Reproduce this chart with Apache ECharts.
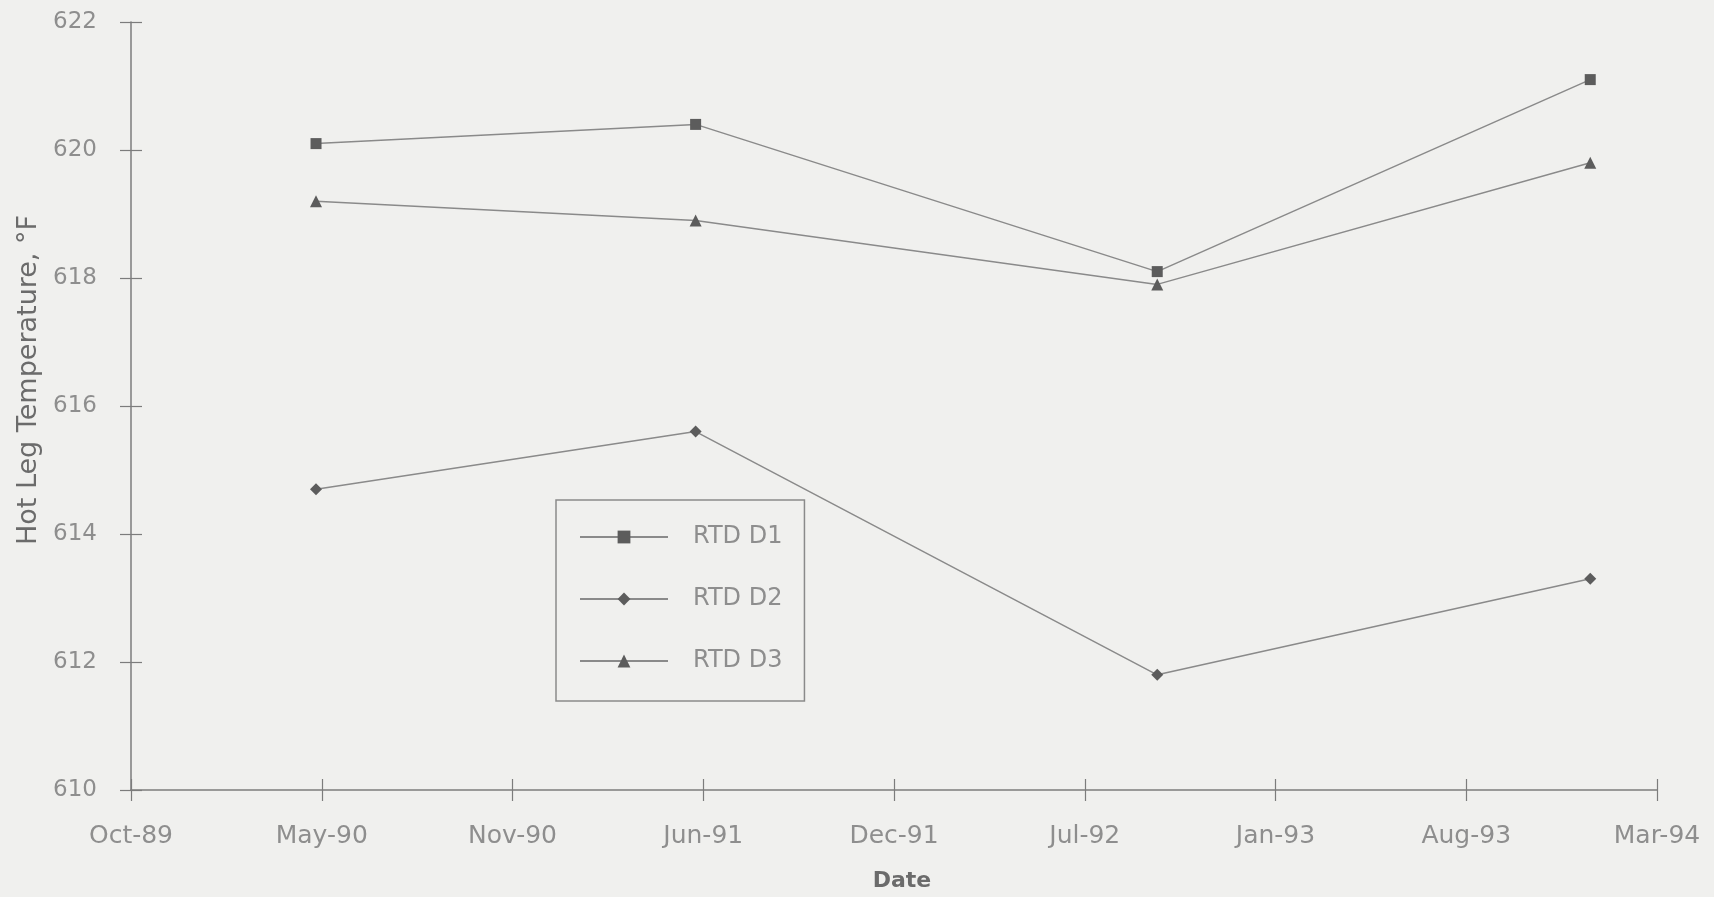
<!DOCTYPE html>
<html>
<head>
<meta charset="utf-8">
<title>Hot Leg Temperature</title>
<script src="https://cdn.jsdelivr.net/npm/echarts@6/dist/echarts.min.js"></script>
<style>
  html, body { margin: 0; padding: 0; background: #f0f0ee; }
  #chart { width: 1714px; height: 897px; }
</style>
</head>
<body>
<div id="chart"></div>
<script>
// Measurement dates and hot-leg RTD readings (°F)
const dates = ['1990-05-01', '1991-06-03', '1992-09-29', '1993-12-27'];
const rtdD1 = [620.1, 620.4, 618.1, 621.1];
const rtdD2 = [614.7, 615.6, 611.8, 613.3];
const rtdD3 = [619.2, 618.9, 617.9, 619.8];

// Date axis: spreadsheet day serials, one tick every 200 days
const xTickLabels = ['Oct-89', 'May-90', 'Nov-90', 'Jun-91', 'Dec-91', 'Jul-92', 'Jan-93', 'Aug-93', 'Mar-94'];
const X_MIN = 32800;
const X_STEP = 200;
const X_MAX = X_MIN + X_STEP * (xTickLabels.length - 1);

const Y_MIN = 610, Y_MAX = 622, Y_STEP = 2;

// Day serial counted from 1899-12-30
function toSerial(d) {
  const [y, m, dd] = d.split('-').map(Number);
  return Math.round((Date.UTC(y, m - 1, dd) - Date.UTC(1899, 11, 30)) / 86400000);
}
function pairs(values) {
  return values.map((v, i) => [toSerial(dates[i]), v]);
}

const FONT = '"DejaVu Sans", Lato, sans-serif';
const AXIS = '#7c7c7c';
const TEXT = '#8e8e8e';
const LINE = '#8a8a8a';
const MARK = '#5c5c5c';

const chart = echarts.init(document.getElementById('chart'), null, { renderer: 'canvas' });

function seriesOf(name, values, symbol, size) {
  return {
    name: name,
    type: 'line',
    data: pairs(values),
    symbol: symbol,
    symbolSize: size,
    showSymbol: true,
    itemStyle: { color: MARK },
    lineStyle: { color: LINE, width: 1.5 },
    emphasis: { disabled: true }
  };
}

chart.setOption({
  animation: false,
  backgroundColor: '#f0f0ee',
  textStyle: { fontFamily: FONT },
  grid: { left: 131, right: 57, top: 22, bottom: 107, containLabel: false },
  xAxis: [
    {
      type: 'value',
      min: X_MIN, max: X_MAX, interval: X_STEP,
      axisLine: { show: true, lineStyle: { color: AXIS, width: 1.5 } },
      axisTick: { show: true, length: 11, lineStyle: { color: AXIS, width: 1.2 } },
      splitLine: { show: false },
      axisLabel: {
        margin: 34, fontSize: 25, color: TEXT, fontFamily: FONT,
        formatter: v => xTickLabels[Math.round((v - X_MIN) / X_STEP)] || ''
      },
      name: 'Date',
      nameLocation: 'middle',
      nameGap: 80,
      nameTextStyle: { fontSize: 22, fontWeight: 'bold', color: '#6b6b6b', fontFamily: FONT, padding: [0, 0, 0, 16] }
    },
    {
      // inner half of the crossing tick marks
      type: 'value',
      position: 'bottom',
      min: X_MIN, max: X_MAX, interval: X_STEP,
      axisLine: { show: false },
      axisTick: { show: true, inside: true, length: 11, lineStyle: { color: AXIS, width: 1.2 } },
      axisLabel: { show: false },
      splitLine: { show: false }
    }
  ],
  yAxis: [
    {
      type: 'value',
      min: Y_MIN, max: Y_MAX, interval: Y_STEP,
      axisLine: { show: true, lineStyle: { color: AXIS, width: 1.5 } },
      axisTick: { show: true, length: 11, lineStyle: { color: AXIS, width: 1.2 } },
      splitLine: { show: false },
      axisLabel: { margin: 34, fontSize: 23, color: TEXT, fontFamily: FONT },
      name: 'Hot Leg Temperature, °F',
      nameLocation: 'middle',
      nameGap: 86,
      nameTextStyle: { fontSize: 27, color: '#6b6b6b', fontFamily: FONT, padding: [0, 0, 0, 52] }
    },
    {
      type: 'value',
      position: 'left',
      min: Y_MIN, max: Y_MAX, interval: Y_STEP,
      axisLine: { show: false },
      axisTick: { show: true, inside: true, length: 11, lineStyle: { color: AXIS, width: 1.2 } },
      axisLabel: { show: false },
      splitLine: { show: false }
    }
  ],
  legend: {
    data: ['RTD D1', 'RTD D2', 'RTD D3'],
    orient: 'vertical',
    left: 556,
    top: 500,
    padding: [22, 22, 25, 23],
    itemWidth: 88,
    itemHeight: 16,
    itemGap: 32,
    borderColor: '#8a8a8a',
    borderWidth: 1.5,
    selectedMode: false,
    textStyle: { fontSize: 24, color: TEXT, fontFamily: FONT, lineHeight: 30, padding: [0, 0, 0, 20] }
  },
  series: [
    seriesOf('RTD D1', rtdD1, 'rect', 11),
    seriesOf('RTD D2', rtdD2, 'diamond', 12),
    seriesOf('RTD D3', rtdD3, 'triangle', 12)
  ]
});
</script>
</body>
</html>
